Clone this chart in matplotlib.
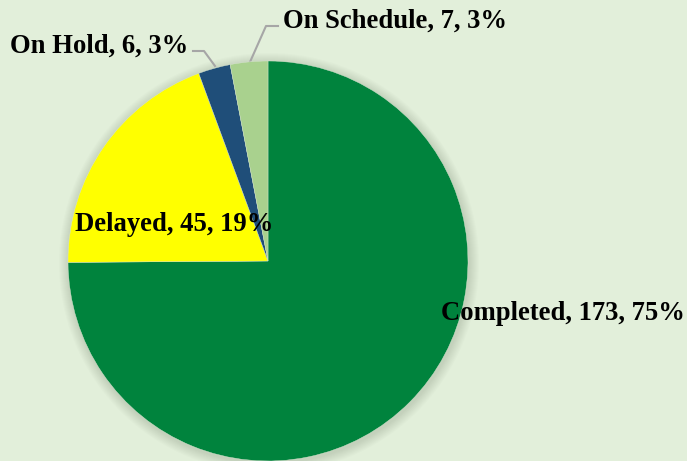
import matplotlib
matplotlib.use("Agg")
import matplotlib.pyplot as plt
from matplotlib.patches import Circle

categories = ["Completed", "Delayed", "On Hold", "On Schedule"]
values = [173, 45, 6, 7]
percents = ["75%", "19%", "3%", "3%"]
colors = ["#00833D", "#FFFF00", "#1F4E79", "#A9D18E"]
bg = "#E2EFDA"

W, H = 687, 461
fig = plt.figure(figsize=(W / 100, H / 100), dpi=100, facecolor=bg)
ax = fig.add_axes([0, 0, 1, 1])
ax.set_facecolor(bg)

cx, cy, r = 268, 461 - 261, 200

# soft shadow
for i in range(10):
    ax.add_patch(Circle((cx + 1, cy - 2), r + 10 - i, facecolor="#6b7a63",
                        edgecolor="none", alpha=0.025, zorder=0))

wedges, _ = ax.pie(values, colors=colors, startangle=90, counterclock=False,
                   center=(cx, cy), radius=r, frame=True,
                   wedgeprops=dict(linewidth=0.3, edgecolor="#d8e6d0"))
for w in wedges:
    w.set_zorder(2)

ax.set_xlim(0, W)
ax.set_ylim(0, H)
ax.set_aspect("equal")
ax.axis("off")

font = dict(family="Liberation Serif", fontweight="bold", fontsize=19.2,
            color="black", zorder=5)
labels = [f"{c}, {v}, {p}" for c, v, p in zip(categories, values, percents)]

ax.text(441, H - 314, labels[0], ha="left", va="center", **font)
ax.text(75, H - 225, labels[1], ha="left", va="center", **font)
ax.text(10, H - 46, labels[2], ha="left", va="center", **font)
ax.text(283, H - 21, labels[3], ha="left", va="center", **font)

lc = "#A6A6A6"
ax.plot([193, 204, 215], [H - 51, H - 51, H - 66], color=lc, lw=1.5, zorder=1)
ax.plot([278, 266, 250], [H - 26, H - 26, H - 62], color=lc, lw=1.5, zorder=1)

fig.savefig("out.png", dpi=100, facecolor=bg)
